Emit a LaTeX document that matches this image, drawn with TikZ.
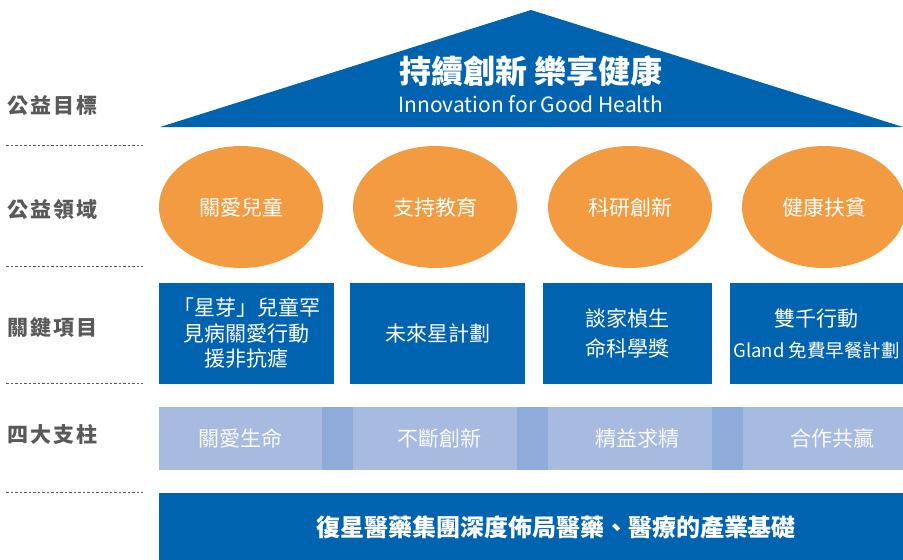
\documentclass[tikz,border=0pt]{standalone}
\usepackage{fontspec}
\setmainfont{Noto Sans CJK TC}
\usepackage{xcolor}
\usepackage{tikz}
\usetikzlibrary{shapes.geometric, positioning}
\definecolor{fosunblue}{RGB}{0, 99, 175}
\definecolor{areaorange}{RGB}{243, 155, 64}
\definecolor{pillarlight}{RGB}{167, 186, 223}
\definecolor{pillardark}{RGB}{142, 171, 217}
\definecolor{labelgray}{RGB}{89, 89, 89}

\begin{document}
\begin{tikzpicture}[x=1pt, y=-1pt,
    rowlabel/.style={text=labelgray, anchor=west, inner sep=0pt,
      font=\fontsize{21}{21}\selectfont\bfseries\addfontfeature{LetterSpace=10}},
    rowline/.style={labelgray, line width=0.7pt, dash pattern=on 2.5pt off 2pt},
    areanode/.style={ellipse, fill=areaorange, text=white, inner sep=0pt,
      minimum width=164pt, minimum height=122pt, font=\fontsize{21}{21}\selectfont},
    projbox/.style={fill=fosunblue, text=white, inner sep=0pt, align=center,
      minimum height=101pt, font=\fontsize{21}{25.5}\selectfont},
    pillarbox/.style={fill=pillarlight, text=white!93!pillarlight, inner sep=0pt,
      minimum height=63pt, font=\fontsize{21}{21}\selectfont},
    jointbox/.style={fill=pillardark, inner sep=0pt, minimum width=31pt, minimum height=63pt}]
  \useasboundingbox (0,0) rectangle (903,560);
  % row labels and dividers
  \node[rowlabel] (goal)   at (7,106) {公益目標};
  \node[rowlabel] (area)   at (7,209) {公益領域};
  \node[rowlabel] (proj)   at (7,328) {關鍵項目};
  \node[rowlabel] (pillar) at (7,434) {四大支柱};
  \foreach \y in {145,266,383,492}
    \draw[rowline] (6,\y) -- (143,\y);
  % roof
  \fill[fosunblue] (160,127) -- (531,10) -- (903,127) -- cycle;
  \node[text=white, font=\fontsize{32}{32}\selectfont\bfseries] (title) at (531,71) {持續創新 樂享健康};
  \node[text=white, font=\fontsize{21}{21}\selectfont, below=2pt of title] (subtitle) {Innovation for Good Health};
  % charity areas
  \foreach \n/\x/\t in {a1/241/關愛兒童, a2/435/支持教育, a3/630/科研創新, a4/824/健康扶貧}
    \node[areanode] (\n) at (\x,207) {\t};
  % key projects
  \node[projbox, minimum width=175pt] (p1) at (246.5,333.5) {「星芽」兒童罕\\見病關愛行動\\援非抗瘧};
  \node[projbox, minimum width=175pt] (p2) at (437.5,333.5) {未來星計劃};
  \node[projbox, minimum width=169pt, font=\fontsize{21}{30}\selectfont] (p3) at (627.5,333.5) {談家楨生\\命科學獎};
  \node[projbox, minimum width=173pt, font=\fontsize{21}{31}\selectfont] (p4) at (816.5,333.5)
    {雙千行動\\{\fontsize{18.5}{31}\selectfont Gland 免費早餐計劃}};
  % pillars
  \foreach \n/\x/\w/\s/\t in {s1/240.5/163/0/關愛生命, s2/435/164/4/不斷創新, s3/630/164/7/精益求精, s4/823/160/9/合作共贏}
    \node[pillarbox, minimum width=\w pt] (\n) at (\x,438.5) {\hspace*{\s pt}\hspace*{\s pt}\t};
  \foreach \n/\x in {j1/337.5, j2/532.5, j3/727.5}
    \node[jointbox] (\n) at (\x,438.5) {};
  % foundation
  \node[fill=fosunblue, inner sep=0pt, minimum width=744pt, minimum height=67pt] (base) at (531,526.5) {};
  \node[text=white, font=\fontsize{24}{24}\selectfont\bfseries] (basetext) at (556,527) {復星醫藥集團深度佈局醫藥、醫療的產業基礎};
\end{tikzpicture}
\end{document}
